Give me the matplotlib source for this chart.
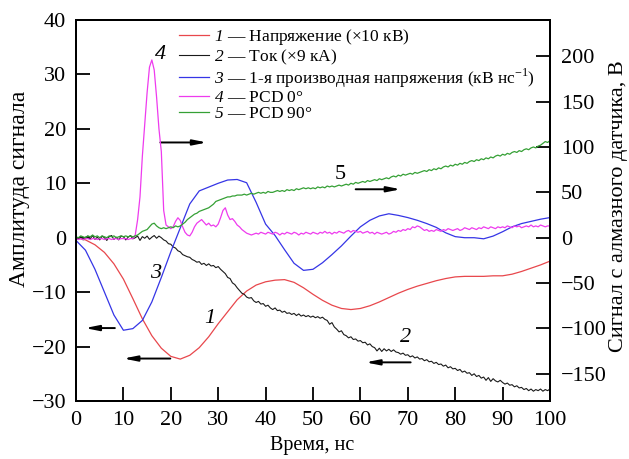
import matplotlib
matplotlib.use('Agg')
import matplotlib.pyplot as plt
import numpy as np

plt.rcParams['font.family'] = ['Liberation Serif', 'DejaVu Serif']
plt.rcParams['mathtext.fontset'] = 'custom'
plt.rcParams['mathtext.rm'] = 'Liberation Serif'
plt.rcParams['mathtext.sf'] = 'Liberation Serif:italic'

# time grids, ns
t_smooth = np.arange(0, 101, 2)
t_fine = np.arange(0, 100.5, 0.5)

# 1 - voltage (x10 kV), left axis
napryazhenie = [
    0.0, -0.4, -1.3, -2.7, -4.8, -7.6, -11.2, -14.9, -18.0, -20.3,
    -21.8, -22.3, -21.6, -20.2, -18.2, -15.8, -13.6, -11.4, -9.8, -8.7,
    -8.1, -7.8, -7.7, -8.2, -9.2, -10.4, -11.5, -12.4, -13.0, -13.2,
    -13.0, -12.5, -11.8, -11.0, -10.2, -9.5, -8.9, -8.4, -7.9, -7.5,
    -7.2, -7.1, -7.1, -7.1, -7.0, -7.0, -6.7, -6.2, -5.6, -5.0,
    -4.3,
]

# 3 - first derivative of voltage (kV/ns), left axis
derivace = [
    -0.5, -2.3, -5.8, -10.0, -14.2, -17.0, -16.7, -15.2, -11.8, -7.3,
    -2.6, 1.8, 6.2, 8.6, 9.3, 10.0, 10.6, 10.7, 10.1, 6.5,
    2.5, 0.4, -2.2, -4.7, -6.0, -5.8, -4.6, -3.1, -1.5, 0.3,
    2.0, 3.2, 4.0, 4.4, 4.1, 3.7, 3.2, 2.6, 1.9, 0.9,
    0.2, 0.0, 0.0, -0.2, 0.3, 1.1, 2.0, 2.6, 3.0, 3.4,
    3.7,
]

# 2 - current (x9 kA), left axis
proud = [
    0.0, -0.3, 0.2, -0.4, 0.1, 0.3, -0.2, 0.4, -0.3, 0.1,
    -0.4, 0.3, 0.0, -0.5, 0.2, 0.4, -0.3, 0.1, -0.4, 0.3,
    0.2, -0.4, 0.1, 0.4, -0.2, 0.0, 0.3, -0.5, 0.2, -0.1,
    0.3, -0.3, 0.1, 0.4, -0.1, 0.3, 0.0, -0.4, -0.6, -1.1,
    -1.2, -1.7, -1.9, -2.4, -2.6, -3.1, -3.3, -3.5, -3.6, -4.0,
    -4.2, -4.5, -4.4, -4.9, -4.7, -5.1, -4.8, -5.2, -5.1, -5.5,
    -5.3, -5.8, -6.2, -6.6, -7.3, -7.5, -8.3, -8.6, -9.2, -9.7,
    -10.2, -10.4, -10.9, -11.1, -11.0, -11.6, -11.9, -11.7, -12.2, -12.1,
    -12.6, -12.4, -12.9, -13.2, -12.9, -13.4, -13.3, -13.7, -13.5, -13.9,
    -13.8, -14.1, -13.9, -14.3, -14.0, -14.4, -14.2, -14.5, -14.3, -14.6,
    -14.4, -14.7, -14.5, -14.8, -14.6, -15.0, -15.2, -15.9, -15.6, -16.4,
    -16.8, -17.3, -17.1, -17.8, -18.0, -18.4, -18.2, -18.7, -18.6, -19.0,
    -18.9, -19.3, -19.2, -19.7, -19.5, -20.0, -20.2, -20.8, -20.3, -20.9,
    -20.4, -20.8, -20.5, -20.9, -20.6, -21.0, -21.1, -21.4, -21.2, -21.6,
    -21.5, -21.9, -21.7, -22.1, -21.9, -22.3, -22.2, -22.6, -22.4, -22.8,
    -22.7, -23.1, -22.9, -23.3, -23.2, -23.6, -23.4, -23.9, -23.7, -24.1,
    -24.0, -24.4, -24.2, -24.7, -24.5, -24.9, -24.8, -25.3, -25.0, -25.5,
    -25.3, -25.8, -25.6, -26.2, -25.7, -26.4, -25.9, -26.3, -26.5, -26.2,
    -26.6, -26.9, -26.7, -27.1, -27.0, -27.4, -27.2, -27.6, -27.5, -27.9,
    -27.7, -28.1, -27.8, -28.2, -27.9, -28.1, -27.8, -28.2, -27.9, -28.1,
    -27.8,
]

# 4 - PCD 0 deg (V), right axis
pcd_0 = [
    -1, -2, -1, -2, -1, -1, -2, -1, -1, -2,
    -1, -1, -2, -1, -1, -2, -1, -1, -2, -1,
    -1, -1, -2, -1, -1, 3, 20, 45, 90, 125,
    160, 188, 196, 185, 155, 120, 95, 30, 14, 12,
    10, 12, 18, 22, 19, 12, 6, 3, 2, 6,
    12, 16, 18, 20, 17, 14, 16, 13, 14, 12,
    15, 22, 30, 33, 25, 20, 21, 18, 14, 12,
    9, 7, 5, 4, 3, 4, 5, 4, 6, 5,
    4, 6, 5, 4, 6, 5, 3, 5, 4, 6,
    5, 4, 6, 5, 3, 5, 4, 6, 5, 4,
    6, 5, 4, 6, 5, 7, 5, 6, 4, 6,
    5, 7, 6, 5, 7, 8, 6, 8, 7, 6,
    7, 5, 6, 7, 5, 6, 4, 6, 5, 4,
    5, 6, 4, 5, 7, 6, 8, 7, 9, 8,
    10, 9, 12, 11, 13, 12, 10, 8, 9, 7,
    8, 7, 9, 8, 7, 9, 8, 10, 9, 8,
    9, 10, 8, 9, 11, 10, 9, 11, 10, 9,
    11, 10, 12, 11, 10, 12, 11, 10, 12, 11,
    12, 11, 13, 12, 11, 13, 12, 13, 11, 12,
    13, 12, 14, 12, 13, 12, 14, 13, 12, 13,
    13,
]

# 5 - PCD 90 deg (V), right axis
pcd_90 = [
    1, 0, 2, 1, 0, 2, 1, 3, 1, 2,
    0, 2, 1, 0, 2, 1, 2, 0, 1, 2,
    1, 2, 1, 2, 1, 2, 3, 5, 7, 8,
    9, 12, 15, 16, 13, 11, 10, 11, 10, 11,
    12, 11, 13, 12, 13, 15, 17, 20, 22, 24,
    26, 27, 29, 30, 31, 32, 33, 35, 37, 40,
    41, 42, 43, 44, 45, 45, 46, 46, 47, 47,
    47, 48, 47, 48, 49, 48, 49, 50, 49, 50,
    49, 51, 50, 50, 51, 52, 51, 52, 51, 53,
    52, 53, 52, 54, 53, 54, 55, 54, 55, 54,
    55, 54, 56, 55, 56, 55, 57, 56, 57, 56,
    57, 58, 57, 58, 59, 58, 60, 59, 61, 60,
    61, 62, 61, 63, 62, 63, 64, 63, 65, 64,
    65, 66, 65, 67, 68, 67, 69, 68, 70, 69,
    70, 71, 70, 72, 71, 72, 73, 74, 73, 75,
    74, 76, 75, 77, 76, 78, 79, 78, 80, 79,
    81, 80, 82, 81, 83, 82, 84, 85, 84, 86,
    85, 87, 86, 88, 87, 89, 88, 90, 91, 90,
    92, 91, 93, 92, 94, 95, 94, 96, 95, 97,
    98, 97, 99, 100, 99, 101, 102, 104, 106, 105,
    107,
]

# italic curve numbers come from the sf slot (mapped to the italic face)
popisky = [
    r'$\mathsf{1}$ — Напряжение (×10 кВ)',
    r'$\mathsf{2}$ — Ток (×9 кА)',
    r'$\mathsf{3}$ — 1-я производная напряжения (кВ нс$^{-1}$)',
    r'$\mathsf{4}$ — PCD 0°',
    r'$\mathsf{5}$ — PCD 90°',
]
barvy = ['#e8474c', '#1a1a1a', '#3535e6', '#ee3bee', '#35a035']


def sipka(ax, start, konec):
    ax.annotate('', xy=konec, xytext=start,
                arrowprops=dict(arrowstyle='-|>,head_length=0.8,head_width=0.16',
                                color='black', lw=1.4, shrinkA=0, shrinkB=0))


def main():
    fig = plt.figure(figsize=(6.29, 4.59), dpi=100)
    ax = fig.add_axes([76 / 629, 1 - 401 / 459, 474 / 629, 381 / 459])
    ax2 = ax.twinx()

    l1, = ax.plot(t_smooth, napryazhenie, color=barvy[0], lw=0.9)
    l2, = ax.plot(t_fine, proud, color=barvy[1], lw=0.8)
    l3, = ax.plot(t_smooth, derivace, color=barvy[2], lw=0.9)
    l4, = ax2.plot(t_fine, pcd_0, color=barvy[3], lw=0.9)
    l5, = ax2.plot(t_fine, pcd_90, color=barvy[4], lw=0.9)

    ax.set_xlim(0, 100)
    ax.set_ylim(-30, 40)
    ax2.set_ylim(-180, 240)
    ax.set_xticks(np.arange(0, 101, 10))
    ax.set_yticks(np.arange(-30, 41, 10))
    ax2.set_yticks(np.arange(-150, 201, 50))

    for a in (ax, ax2):
        for s in a.spines.values():
            s.set_linewidth(1.4)
    ax.tick_params(axis='both', direction='in', length=10, width=1.3,
                   labelsize=16, top=False, right=False)
    ax.tick_params(axis='x', pad=7)
    ax.tick_params(axis='y', pad=7)
    ax2.tick_params(axis='y', direction='in', length=10, width=1.3,
                    labelsize=16, pad=8)

    ax.set_xlabel('Время, нс', fontsize=14.5)
    ax.set_ylabel('Амплитуда сигнала', fontsize=17)
    ax2.set_ylabel('Сигнал с алмазного датчика, В', fontsize=16)
    ax.xaxis.set_label_coords(0.498, -0.093)
    ax.yaxis.set_label_coords(-0.097, 0.556)
    ax2.yaxis.set_label_coords(1.125, 0.512)

    # arrows and curve numbers
    sipka(ax, (17.8, 17.5), (27.6, 17.5))
    ax.text(17.8, 33.6, '4', fontsize=16, style='italic', ha='center', va='center')
    sipka(ax, (59.0, 8.9), (68.5, 8.9))
    ax.text(55.8, 11.6, '5', fontsize=16, ha='center', va='center')
    sipka(ax, (8.2, -16.6), (1.9, -16.6))
    ax.text(16.7, -6.5, '3', fontsize=16, style='italic', ha='center', va='center')
    sipka(ax, (19.9, -22.2), (10.0, -22.2))
    ax.text(28.3, -14.8, '1', fontsize=16, style='italic', ha='center', va='center')
    sipka(ax, (70.6, -22.9), (61.1, -22.9))
    ax.text(69.6, -18.4, '2', fontsize=16, style='italic', ha='center', va='center')

    ax2.legend([l1, l2, l3, l4, l5], popisky, loc='upper left',
               bbox_to_anchor=(0.21, 0.99), frameon=False, fontsize=12.5,
               handlelength=1.7, handletextpad=0.3, labelspacing=0.0,
               borderaxespad=0, borderpad=0.2)

    fig.savefig('out.png', dpi=100)


if __name__ == "__main__":
    main()
